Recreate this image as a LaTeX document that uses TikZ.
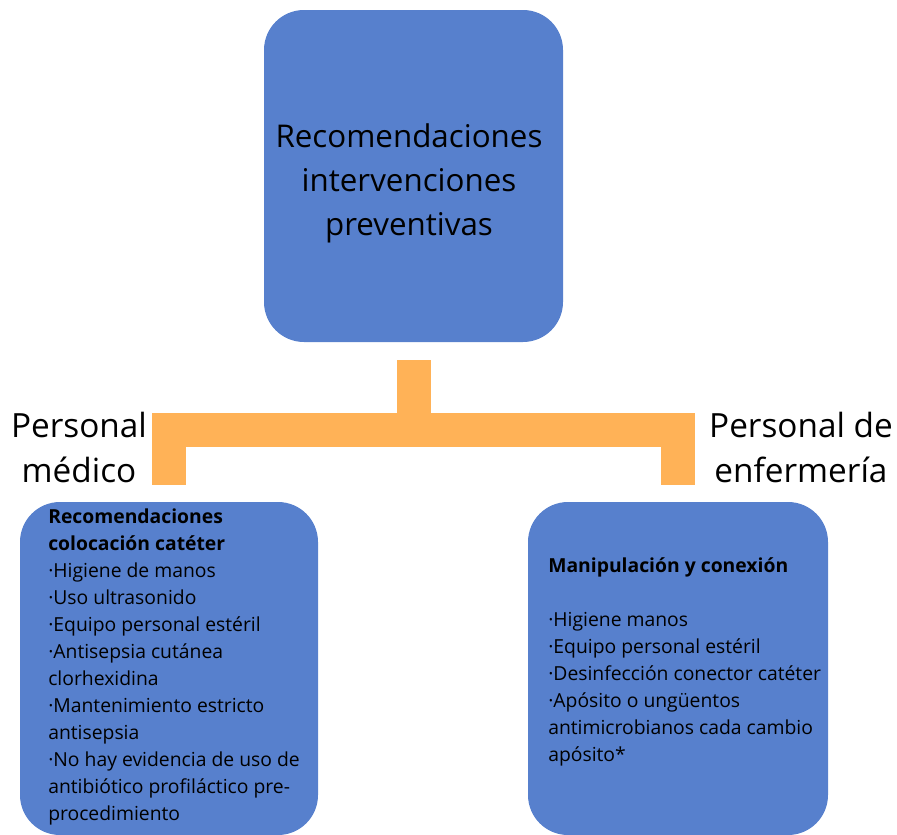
\documentclass[tikz,border=0pt]{standalone}
\usepackage{fontspec}
\setmainfont{Open Sans}
\usetikzlibrary{positioning}
\definecolor{mblue}{RGB}{87,128,205}
\definecolor{morange}{RGB}{255,178,87}
\tikzset{
  box/.style={fill=mblue, rounded corners=30pt, inner sep=0pt},
  bracket/.style={draw=morange, line width=25.5pt, line join=miter},
  lbl/.style={align=center, inner sep=0pt, anchor=north, font=\fontsize{25}{33.75}\selectfont},
  txt/.style={align=left, inner sep=0pt, anchor=north west, font=\fontsize{14.5}{20.25}\selectfont}
}

\begin{document}
\begin{tikzpicture}[x=0.75pt, y=-0.75pt]
    \useasboundingbox (0,0) rectangle (897,835);

    \node [box, minimum width=224.25pt, minimum height=249pt] (top) at (413.5,176) {};
    \node [box, minimum width=223.5pt, minimum height=249.75pt] (medico) at (169,668.5) {};
    \node [box, minimum width=225pt, minimum height=249.75pt] (enfermeria) at (678,668.5) {};

    \node [align=center, inner sep=0pt, font=\fontsize{23.5}{33}\selectfont] (toptxt)
      at (409,183) {Recomendaciones\\intervenciones\\preventivas};
    \node [txt] (medtxt) at (48,508.6) {\textbf{Recomendaciones}\\\textbf{colocación catéter}\\
      ·Higiene de manos\\·Uso ultrasonido\\·Equipo personal estéril\\
      ·Antisepsia cutánea\\clorhexidina\\·Mantenimiento estricto\\antisepsia\\
      ·No hay evidencia de uso de\\antibiótico profiláctico pre-\\procedimiento};
    \node [txt] (enftxt) at (548,557) {\textbf{Manipulación y conexión}\\[20.25pt]
      ·Higiene manos\\·Equipo personal estéril\\·Desinfección conector catéter\\
      ·Apósito o ungüentos\\antimicrobianos cada cambio\\apósito*};

    \node [lbl] (lblmed) at (79,412) {Personal\\médico};
    \node [lbl] (lblenf) at (801,412) {Personal de\\enfermería};

    % bracket
    \coordinate (bar) at (413.5,430);
    \draw [bracket] ([yshift=12.75pt]medico.north) |- (bar) -| ([yshift=12.75pt]enfermeria.north);
    \draw [bracket] ([yshift=-13.5pt]top.south) -- (bar);
\end{tikzpicture}
\end{document}
